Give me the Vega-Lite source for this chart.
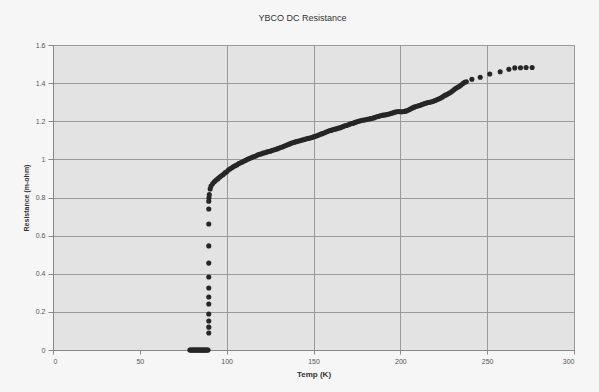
{
  "$schema": "https://vega.github.io/schema/vega-lite/v6.json",
  "autosize": {"type": "none"},
  "padding": {"left": 53, "top": 45, "right": 25, "bottom": 42},
  "width": 521,
  "height": 305,
  "background": "#f6f6f6",
  "title": {"text": "YBCO DC Resistance", "font": "Liberation Sans", "fontSize": 9, "fontWeight": "normal", "color": "#333", "baseline": "alphabetic", "offset": 11, "dx": -11},
  "config": {
    "view": {"fill": "#e3e3e3", "stroke": "#999", "strokeWidth": 1},
    "axis": {"labelFont": "Liberation Sans", "titleFont": "Liberation Sans", "labelFontSize": 7, "labelColor": "#555", "titleColor": "#333", "tickColor": "#888", "domainColor": "#888", "tickSize": 5, "gridColor": "#9a9a9a", "gridWidth": 1}
  },
  "data": {"values": [
    {"T": 78.8, "R": 0}, {"T": 79.3, "R": 0}, {"T": 79.8, "R": 0}, {"T": 80.3, "R": 0}, {"T": 80.8, "R": 0}, {"T": 81.3, "R": 0}, {"T": 81.8, "R": 0}, {"T": 82.3, "R": 0}, {"T": 82.8, "R": 0}, {"T": 83.3, "R": 0}, {"T": 83.8, "R": 0}, {"T": 84.3, "R": 0}, {"T": 84.8, "R": 0}, {"T": 85.3, "R": 0}, {"T": 85.8, "R": 0}, {"T": 86.3, "R": 0}, {"T": 86.8, "R": 0}, {"T": 87.3, "R": 0}, {"T": 87.8, "R": 0}, {"T": 88.3, "R": 0}, {"T": 88.8, "R": 0}, {"T": 89.3, "R": 0},
    {"T": 89.7, "R": 0.089}, {"T": 89.7, "R": 0.12}, {"T": 89.7, "R": 0.152}, {"T": 89.7, "R": 0.189}, {"T": 89.7, "R": 0.241}, {"T": 89.7, "R": 0.278}, {"T": 89.7, "R": 0.325}, {"T": 89.7, "R": 0.383}, {"T": 89.7, "R": 0.456}, {"T": 89.7, "R": 0.546}, {"T": 89.7, "R": 0.661}, {"T": 89.7, "R": 0.74}, {"T": 89.7, "R": 0.78}, {"T": 89.8, "R": 0.798},
    {"T": 90, "R": 0.815}, {"T": 90.5, "R": 0.845}, {"T": 91, "R": 0.86}, {"T": 92, "R": 0.873}, {"T": 93, "R": 0.884}, {"T": 94, "R": 0.892}, {"T": 95, "R": 0.899}, {"T": 96, "R": 0.907}, {"T": 97, "R": 0.914}, {"T": 98, "R": 0.921}, {"T": 99, "R": 0.929},
    {"T": 100, "R": 0.935}, {"T": 101, "R": 0.944}, {"T": 102, "R": 0.951}, {"T": 103, "R": 0.956}, {"T": 104, "R": 0.962}, {"T": 105, "R": 0.967}, {"T": 106, "R": 0.972}, {"T": 107, "R": 0.978}, {"T": 108, "R": 0.982}, {"T": 109, "R": 0.986},
    {"T": 110, "R": 0.991}, {"T": 111, "R": 0.995}, {"T": 112, "R": 1.001}, {"T": 113, "R": 1.004}, {"T": 114, "R": 1.008}, {"T": 115, "R": 1.012}, {"T": 116, "R": 1.015}, {"T": 117, "R": 1.019}, {"T": 118, "R": 1.024}, {"T": 119, "R": 1.027},
    {"T": 120, "R": 1.029}, {"T": 121, "R": 1.033}, {"T": 122, "R": 1.035}, {"T": 123, "R": 1.038}, {"T": 124, "R": 1.041}, {"T": 125, "R": 1.043}, {"T": 126, "R": 1.046}, {"T": 127, "R": 1.049}, {"T": 128, "R": 1.052}, {"T": 129, "R": 1.055},
    {"T": 130, "R": 1.058}, {"T": 131, "R": 1.062}, {"T": 132, "R": 1.065}, {"T": 133, "R": 1.069}, {"T": 134, "R": 1.073}, {"T": 135, "R": 1.077}, {"T": 136, "R": 1.08}, {"T": 137, "R": 1.084}, {"T": 138, "R": 1.087}, {"T": 139, "R": 1.09},
    {"T": 140, "R": 1.093}, {"T": 141, "R": 1.095}, {"T": 142, "R": 1.098}, {"T": 143, "R": 1.1}, {"T": 144, "R": 1.103}, {"T": 145, "R": 1.105}, {"T": 146, "R": 1.108}, {"T": 147, "R": 1.11}, {"T": 148, "R": 1.112}, {"T": 149, "R": 1.115},
    {"T": 150, "R": 1.118}, {"T": 151, "R": 1.121}, {"T": 152, "R": 1.124}, {"T": 153, "R": 1.128}, {"T": 154, "R": 1.132}, {"T": 155, "R": 1.135}, {"T": 156, "R": 1.138}, {"T": 157, "R": 1.142}, {"T": 158, "R": 1.146}, {"T": 159, "R": 1.15},
    {"T": 160, "R": 1.152}, {"T": 161, "R": 1.155}, {"T": 162, "R": 1.158}, {"T": 163, "R": 1.16}, {"T": 164, "R": 1.163}, {"T": 165, "R": 1.165}, {"T": 166, "R": 1.168}, {"T": 167, "R": 1.172}, {"T": 168, "R": 1.176}, {"T": 169, "R": 1.178},
    {"T": 170, "R": 1.182}, {"T": 171, "R": 1.185}, {"T": 172, "R": 1.188}, {"T": 173, "R": 1.19}, {"T": 174, "R": 1.194}, {"T": 175, "R": 1.197}, {"T": 176, "R": 1.2}, {"T": 177, "R": 1.203}, {"T": 178, "R": 1.205}, {"T": 179, "R": 1.206},
    {"T": 180, "R": 1.208}, {"T": 181, "R": 1.21}, {"T": 182, "R": 1.212}, {"T": 183, "R": 1.214}, {"T": 184, "R": 1.216}, {"T": 185, "R": 1.219}, {"T": 186, "R": 1.222}, {"T": 187, "R": 1.225}, {"T": 188, "R": 1.227}, {"T": 189, "R": 1.23},
    {"T": 190, "R": 1.232}, {"T": 191, "R": 1.233}, {"T": 192, "R": 1.235}, {"T": 193, "R": 1.237}, {"T": 194, "R": 1.239}, {"T": 195, "R": 1.242}, {"T": 196, "R": 1.245}, {"T": 197, "R": 1.248}, {"T": 198, "R": 1.25}, {"T": 199, "R": 1.251},
    {"T": 200, "R": 1.25}, {"T": 201, "R": 1.25}, {"T": 202, "R": 1.251}, {"T": 203, "R": 1.253}, {"T": 204, "R": 1.256}, {"T": 205, "R": 1.26}, {"T": 206, "R": 1.265}, {"T": 207, "R": 1.27}, {"T": 208, "R": 1.274}, {"T": 209, "R": 1.277},
    {"T": 210, "R": 1.28}, {"T": 211, "R": 1.283}, {"T": 212, "R": 1.286}, {"T": 213, "R": 1.289}, {"T": 214, "R": 1.293}, {"T": 215, "R": 1.296}, {"T": 216, "R": 1.298}, {"T": 217, "R": 1.3}, {"T": 218, "R": 1.302}, {"T": 219, "R": 1.305},
    {"T": 220, "R": 1.309}, {"T": 221, "R": 1.313}, {"T": 222, "R": 1.317}, {"T": 223, "R": 1.321}, {"T": 224, "R": 1.326}, {"T": 225, "R": 1.332}, {"T": 226, "R": 1.337}, {"T": 227, "R": 1.342}, {"T": 228, "R": 1.347}, {"T": 229, "R": 1.352},
    {"T": 230, "R": 1.359}, {"T": 231, "R": 1.366}, {"T": 232, "R": 1.373}, {"T": 233, "R": 1.378}, {"T": 234, "R": 1.383}, {"T": 235, "R": 1.39}, {"T": 236, "R": 1.398}, {"T": 237, "R": 1.404}, {"T": 238, "R": 1.407},
    {"T": 241.2, "R": 1.42}, {"T": 246, "R": 1.431}, {"T": 251.5, "R": 1.448}, {"T": 257.5, "R": 1.46}, {"T": 262.5, "R": 1.473}, {"T": 265.9, "R": 1.48}, {"T": 269.2, "R": 1.481}, {"T": 272.4, "R": 1.482}, {"T": 275.9, "R": 1.482}
  ]},
  "mark": {"type": "point", "filled": true, "size": 26, "color": "#262626", "opacity": 1},
  "encoding": {
    "x": {"field": "T", "type": "quantitative", "scale": {"domain": [0, 300], "nice": false, "zero": false},
      "axis": {"values": [0, 50, 100, 150, 200, 250, 300], "format": "d", "title": "Temp (K)", "titleFontSize": 8, "titleFontWeight": "bold", "titlePadding": 6, "labelPadding": 3, "tickSize": 4,
        "gridColor": {"condition": {"test": "datum.value === 50", "value": "transparent"}, "value": "#9a9a9a"}}},
    "y": {"field": "R", "type": "quantitative", "scale": {"domain": [0, 1.6], "nice": false},
      "axis": {"values": [0, 0.2, 0.4, 0.6, 0.8, 1, 1.2, 1.4, 1.6], "format": "~g", "title": "Resistance (m-ohm)", "titleFontSize": 7, "titleFontWeight": "bold", "titlePadding": 6, "labelPadding": 3, "tickSize": 5}}
  }
}
